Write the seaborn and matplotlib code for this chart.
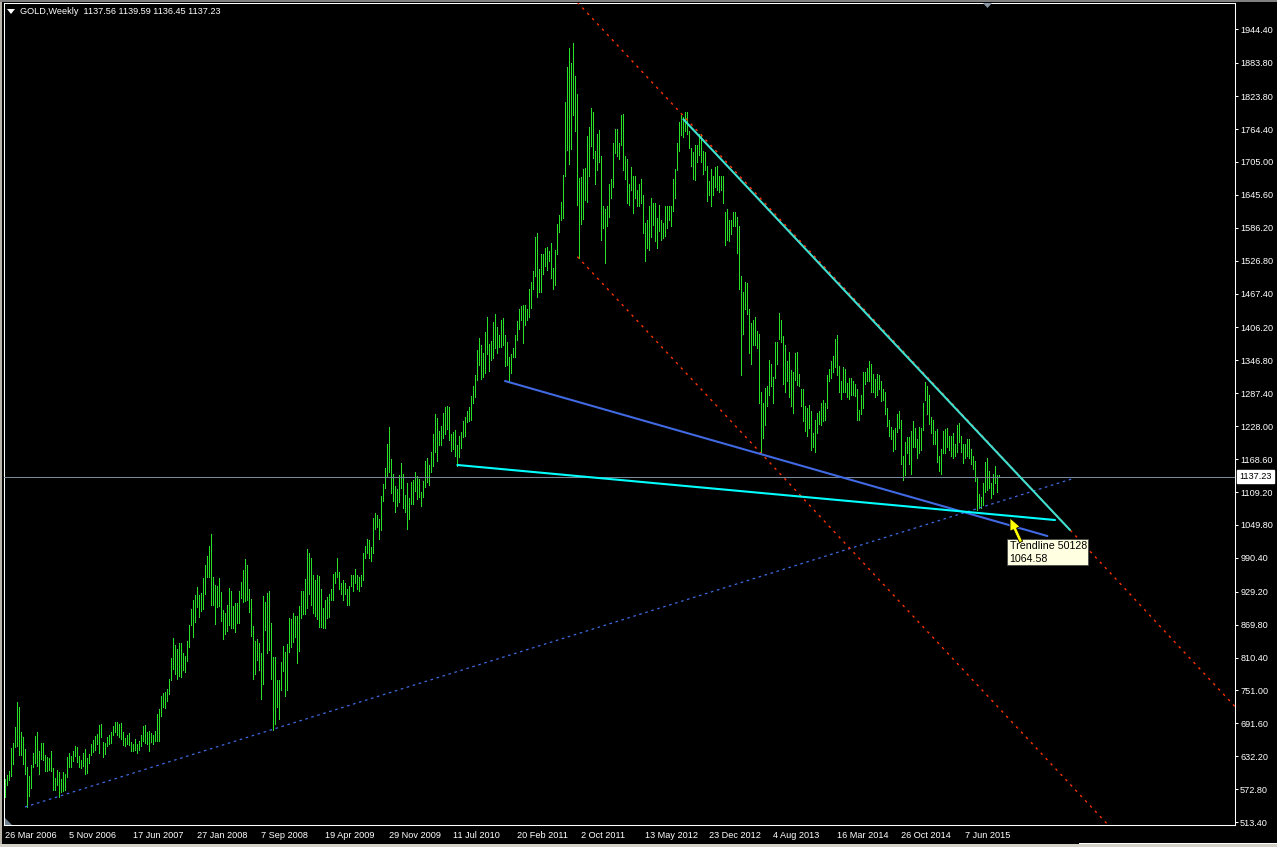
import numpy as np
import pandas as pd
import matplotlib
matplotlib.use("Agg")
import matplotlib.pyplot as plt
import seaborn as sns
from matplotlib.patches import Polygon, Rectangle, FancyArrow
from matplotlib.transforms import IdentityTransform, blended_transform_factory

# ---------------- data (weekly GOLD bars, week 0 = 26 Mar 2006) ----------------
high = [
    591, 598, 606, 647, 656, 685, 730, 721, 676, 667,
    645, 613, 597, 616, 638, 669, 676, 642, 656, 656,
    635, 631, 629, 642, 611, 593, 607, 604, 591, 604,
    600, 631, 638, 633, 642, 651, 649, 633, 626, 638,
    645, 629, 636, 654, 662, 669, 672, 689, 691, 658,
    656, 667, 671, 676, 687, 694, 694, 691, 692, 676,
    665, 671, 674, 658, 654, 663, 654, 660, 671, 687,
    689, 676, 678, 674, 671, 678, 709, 718, 741, 746,
    748, 754, 772, 810, 846, 833, 826, 837, 837, 819,
    813, 840, 869, 898, 914, 923, 938, 923, 927, 954,
    978, 994, 1012, 1033, 956, 941, 940, 954, 929, 896,
    891, 905, 936, 931, 904, 909, 909, 931, 947, 969,
    988, 978, 934, 916, 867, 840, 844, 837, 819, 922,
    911, 927, 931, 873, 811, 811, 770, 770, 802, 831,
    820, 835, 882, 880, 891, 885, 885, 904, 931, 931,
    952, 1006, 999, 990, 960, 950, 960, 958, 935, 900,
    914, 920, 925, 934, 961, 965, 990, 965, 945, 950,
    945, 935, 940, 960, 960, 970, 960, 955, 960, 1000,
    1012, 1025, 1022, 1010, 1062, 1071, 1068, 1060, 1102, 1124,
    1153, 1196, 1227, 1169, 1142, 1120, 1115, 1140, 1162, 1142,
    1104, 1126, 1098, 1127, 1131, 1145, 1138, 1133, 1109, 1129,
    1165, 1171, 1158, 1181, 1214, 1250, 1243, 1219, 1228, 1252,
    1263, 1264, 1263, 1214, 1218, 1221, 1194, 1210, 1218, 1237,
    1245, 1255, 1263, 1283, 1301, 1320, 1366, 1387, 1375, 1360,
    1398, 1425, 1376, 1382, 1416, 1431, 1407, 1393, 1420, 1423,
    1393, 1380, 1353, 1358, 1369, 1393, 1418, 1440, 1445, 1447,
    1447, 1440, 1476, 1488, 1508, 1570, 1577, 1512, 1539, 1539,
    1550, 1552, 1544, 1559, 1514, 1546, 1593, 1609, 1633, 1682,
    1813, 1876, 1911, 1884, 1920, 1860, 1828, 1676, 1678, 1692,
    1694, 1752, 1768, 1802, 1795, 1725, 1756, 1762, 1715, 1625,
    1620, 1625, 1665, 1675, 1740, 1765, 1765, 1740, 1790, 1792,
    1715, 1710, 1665, 1695, 1680, 1680, 1655, 1665, 1675, 1645,
    1595, 1600, 1625, 1640, 1630, 1630, 1604, 1627, 1600, 1595,
    1625, 1626, 1625, 1625, 1675, 1693, 1740, 1778, 1790, 1787,
    1796, 1795, 1760, 1730, 1723, 1735, 1736, 1755, 1755, 1725,
    1723, 1698, 1670, 1693, 1680, 1695, 1698, 1680, 1680, 1680,
    1615, 1620, 1600, 1600, 1615, 1615, 1605, 1590, 1500, 1470,
    1488, 1487, 1440, 1415, 1420, 1425, 1400, 1395, 1290, 1270,
    1297, 1300, 1348, 1340, 1317, 1380, 1380, 1433, 1420, 1390,
    1375, 1345, 1362, 1330, 1326, 1360, 1362, 1323, 1295, 1295,
    1265, 1260, 1267, 1255, 1215, 1240, 1252, 1255, 1270, 1275,
    1270, 1320, 1332, 1345, 1355, 1385, 1392, 1336, 1310, 1335,
    1332, 1306, 1315, 1315, 1310, 1305, 1295, 1257, 1285, 1325,
    1325, 1333, 1346, 1340, 1323, 1313, 1322, 1320, 1310, 1295,
    1290, 1260, 1240, 1227, 1221, 1225, 1250, 1255, 1240, 1175,
    1200, 1208, 1208, 1220, 1238, 1225, 1205, 1227, 1225, 1270,
    1307, 1300, 1285, 1245, 1240, 1220, 1223, 1175, 1187, 1220,
    1223, 1225, 1210, 1210, 1215, 1195, 1230, 1233, 1210, 1195,
    1195, 1205, 1205, 1187, 1175, 1165, 1135, 1106, 1100, 1125,
    1163, 1170, 1147, 1125, 1142, 1157, 1140, 1139.59,
]
low = [
    558, 580, 589, 597, 618, 649, 651, 635, 635, 618,
    600, 541, 561, 575, 613, 620, 615, 600, 627, 626,
    606, 606, 607, 606, 571, 571, 580, 559, 568, 570,
    571, 595, 613, 613, 624, 633, 622, 613, 611, 615,
    600, 602, 620, 635, 640, 644, 654, 638, 667, 631,
    636, 651, 654, 656, 671, 676, 671, 667, 663, 653,
    651, 654, 653, 642, 642, 644, 638, 644, 651, 660,
    656, 654, 642, 658, 654, 660, 660, 660, 705, 721,
    719, 732, 745, 770, 790, 781, 772, 777, 775, 788,
    784, 804, 830, 869, 848, 875, 902, 884, 894, 898,
    925, 956, 956, 905, 905, 871, 902, 904, 876, 844,
    853, 858, 869, 864, 864, 857, 873, 873, 918, 911,
    913, 914, 893, 849, 772, 781, 806, 788, 736, 763,
    860, 819, 824, 772, 680, 690, 721, 700, 752, 786,
    741, 752, 820, 830, 839, 848, 801, 822, 882, 889,
    889, 900, 925, 905, 890, 885, 880, 865, 865, 864,
    864, 882, 884, 914, 914, 945, 955, 935, 925, 915,
    925, 905, 905, 940, 930, 945, 935, 930, 940, 950,
    990, 1000, 990, 985, 1000, 1042, 1046, 1024, 1041, 1093,
    1116, 1136, 1145, 1107, 1093, 1073, 1084, 1091, 1116, 1080,
    1073, 1042, 1061, 1088, 1088, 1111, 1097, 1100, 1084, 1100,
    1118, 1127, 1122, 1145, 1156, 1181, 1165, 1194, 1194, 1207,
    1214, 1223, 1203, 1183, 1187, 1174, 1156, 1172, 1189, 1209,
    1210, 1236, 1237, 1239, 1270, 1281, 1311, 1339, 1313, 1317,
    1324, 1358, 1328, 1348, 1351, 1369, 1360, 1371, 1371, 1375,
    1337, 1338, 1310, 1324, 1353, 1353, 1384, 1404, 1420, 1378,
    1411, 1420, 1425, 1441, 1476, 1500, 1462, 1470, 1470, 1503,
    1517, 1510, 1526, 1496, 1476, 1483, 1539, 1579, 1600, 1604,
    1680, 1727, 1701, 1728, 1790, 1760, 1627, 1532, 1593, 1602,
    1636, 1633, 1680, 1734, 1712, 1665, 1690, 1705, 1565, 1585,
    1523, 1590, 1605, 1640, 1660, 1722, 1715, 1710, 1735, 1690,
    1675, 1630, 1628, 1655, 1612, 1640, 1625, 1625, 1630, 1577,
    1527, 1550, 1546, 1570, 1592, 1563, 1550, 1580, 1565, 1567,
    1572, 1585, 1600, 1590, 1617, 1640, 1690, 1725, 1753, 1750,
    1760, 1755, 1730, 1697, 1675, 1673, 1705, 1717, 1705, 1684,
    1690, 1635, 1645, 1625, 1645, 1660, 1655, 1650, 1655, 1630,
    1555, 1565, 1562, 1575, 1590, 1590, 1540, 1476, 1321, 1395,
    1440, 1430, 1360, 1340, 1375, 1375, 1370, 1270, 1180, 1207,
    1230, 1265, 1285, 1300, 1270, 1315, 1340, 1385, 1380, 1305,
    1290, 1310, 1280, 1265, 1251, 1312, 1303, 1300, 1265, 1238,
    1220, 1210, 1225, 1185, 1190, 1182, 1215, 1232, 1230, 1238,
    1240, 1260, 1310, 1315, 1325, 1335, 1320, 1290, 1277, 1290,
    1290, 1280, 1278, 1285, 1285, 1283, 1240, 1240, 1250, 1260,
    1305, 1310, 1310, 1290, 1290, 1281, 1285, 1295, 1273, 1275,
    1250, 1228, 1211, 1205, 1183, 1187, 1217, 1225, 1160, 1131,
    1140, 1180, 1160, 1142, 1190, 1190, 1170, 1180, 1185, 1222,
    1275, 1250, 1232, 1216, 1195, 1195, 1164, 1147, 1142, 1180,
    1180, 1190, 1185, 1175, 1170, 1175, 1182, 1200, 1182, 1162,
    1170, 1175, 1170, 1160, 1150, 1130, 1077, 1080, 1080, 1085,
    1110, 1112, 1117, 1098, 1105, 1125, 1110, 1136.45,
]

bid = 1137.23
title_text = "GOLD,Weekly  1137.56 1139.59 1136.45 1137.23"

price_ticks = [1944.40, 1883.80, 1823.80, 1764.40, 1705.00, 1645.60, 1586.20,
               1526.80, 1467.40, 1406.20, 1346.80, 1287.40, 1228.00, 1168.60,
               1109.20, 1049.80, 990.40, 929.20, 869.80, 810.40, 751.00,
               691.60, 632.20, 572.80, 513.40]
date_weeks = [0, 32, 64, 96, 128, 160, 192, 224, 256, 288, 320, 352, 384, 416, 448, 480]
date_labels = ["26 Mar 2006", "5 Nov 2006", "17 Jun 2007", "27 Jan 2008", "7 Sep 2008",
               "19 Apr 2009", "29 Nov 2009", "11 Jul 2010", "20 Feb 2011", "2 Oct 2011",
               "13 May 2012", "23 Dec 2012", "4 Aug 2013", "16 Mar 2014", "26 Oct 2014",
               "7 Jun 2015"]

# trendlines: (week index, price) endpoints
channel_x = [286.2, 615.0]
channel_upper = [1993.0, 722.0]
channel_lower = [1534.0, 263.0]
cyan_upper_x, cyan_upper_y = [339.2, 532.5], [1782.0, 1040.7]
cyan_lower_x, cyan_lower_y = [226.2, 525.0], [1158.0, 1058.7]
blue_x, blue_y = [250.0, 521.2], [1309.6, 1029.8]
support_x, support_y = [10.0, 533.3], [540.7, 1132.7]

tooltip_name = "Trendline 50128"
tooltip_value = "1064.58"

# ---------------- styling ----------------
W, H = 1277, 847
sns.set_theme(style="dark", rc={"axes.facecolor": "black", "figure.facecolor": "black"})
plt.rcParams["font.family"] = ["Liberation Sans", "DejaVu Sans"]
plt.rcParams["lines.scale_dashes"] = False

fig = plt.figure(figsize=(W / 100, H / 100), dpi=100, facecolor="black")
ax = fig.add_axes([4 / W, 1 - 825 / H, 1231 / W, 822 / H])
ax.set_facecolor("black")
ax.grid(False)

n = min(len(high), len(low))
print("bars:", len(high), len(low))
df = pd.DataFrame({"week": np.arange(n), "high": high[:n], "low": low[:n]})

BAR = "#28e028"
ax.vlines(df["week"], df["low"], df["high"], colors=BAR, linewidth=0.5,
          antialiased=False, zorder=2)

# support dotted blue
ax.plot(support_x, support_y, color="#4169e1", lw=0.9, linestyle=(0, (1.9, 2.6)), zorder=3)
# red channel (dotted)
ax.plot(channel_x, channel_upper, color="#ff3300", lw=1.0, linestyle=(0, (1.8, 3.4)), zorder=3)
ax.plot(channel_x, channel_lower, color="#ff3300", lw=1.0, linestyle=(0, (1.8, 3.4)), zorder=3)
# solid trendlines
sns.lineplot(x=blue_x, y=blue_y, ax=ax, color="#4169e1", lw=1.5, sort=False,
             estimator=None, zorder=4)
sns.lineplot(x=cyan_lower_x, y=cyan_lower_y, ax=ax, color="#00ffff", lw=1.5, sort=False,
             estimator=None, zorder=5)
sns.lineplot(x=cyan_upper_x, y=cyan_upper_y, ax=ax, color="#40e0d0", lw=1.5, sort=False,
             estimator=None, zorder=5)

ax.axhline(bid, color="#778899", lw=0.75, zorder=3)

ax.set_xlim(-0.5, 615.0)
ax.set_ylim(508.2, 1991.9)

for s in ax.spines.values():
    s.set_color("white")
    s.set_linewidth(0.75)
    s.set_visible(True)

ax.yaxis.tick_right()
ax.set_yticks(price_ticks)
ax.set_yticklabels([f"{p:.2f}" for p in price_ticks])
ax.tick_params(axis="y", direction="out", length=2.5, width=0.75, colors="white",
               labelsize=6.6, pad=1.2, left=False, right=True,
               labelleft=False, labelright=True)
ax.set_xticks(date_weeks)
ax.set_xticklabels(date_labels, ha="left")
ax.tick_params(axis="x", direction="out", length=3.0, width=0.75, colors="white",
               labelsize=6.6, pad=1.0)
ax.set_xlabel("")
ax.set_ylabel("")

# bid price box on axis
trans = blended_transform_factory(ax.transAxes, ax.transData)
ax.text(1 + 4.5 / 1231, bid, f"{bid:.2f}", transform=trans, ha="left", va="center",
        fontsize=6.6, color="black", clip_on=False, zorder=10,
        bbox=dict(boxstyle="square,pad=0.22", fc="white", ec="white"))

ident = IdentityTransform()
def P(x, y):
    return (x, H - y)

# title
fig.text(20 / W, 1 - 12 / H, title_text, color="white", fontsize=6.6, ha="left", va="center")
fig.add_artist(Polygon([P(7, 9), P(15, 9), P(11, 14)], closed=True, fc="white", ec="none",
                       transform=ident))
# chart shift markers
fig.add_artist(Polygon([P(983, 3), P(992, 3), P(987.5, 8)], closed=True, fc="#8a96a3",
                       ec="none", transform=ident))
fig.add_artist(Polygon([P(5, 818), P(5, 825), P(12, 825)], closed=True, fc="#6f7f91",
                       ec="none", transform=ident))
# window frame
fig.add_artist(Rectangle((0, 0), 2, H, fc="#b8b4aa", ec="none", transform=ident))
fig.add_artist(Rectangle((0, H - 2), W, 2, fc="#808080", ec="none", transform=ident))
fig.add_artist(Rectangle((0, 0), W, 3, fc="#d4d0c8", ec="none", transform=ident))
fig.add_artist(Rectangle((1079, 3), W - 1079, 1.2, fc="white", ec="none", transform=ident))

# tooltip
fig.add_artist(Rectangle(P(1007, 565), 81, 26, fc="#ffffe1", ec="#404040", lw=0.5,
                         transform=ident, zorder=20))
fig.text(1009.5 / W, 1 - 546 / H, tooltip_name, color="black", fontsize=7.7,
         ha="left", va="center", zorder=21)
fig.text(1009.5 / W, 1 - 559 / H, tooltip_value, color="black", fontsize=7.7,
         ha="left", va="center", zorder=21)
fig.add_artist(FancyArrow(1021, H - 542, -11, 24, width=3.5, head_width=11, head_length=12,
                          length_includes_head=True, fc="#ffff00", ec="black", lw=0.6,
                          transform=ident, zorder=22))

fig.savefig("out.png", dpi=100, facecolor="black")
